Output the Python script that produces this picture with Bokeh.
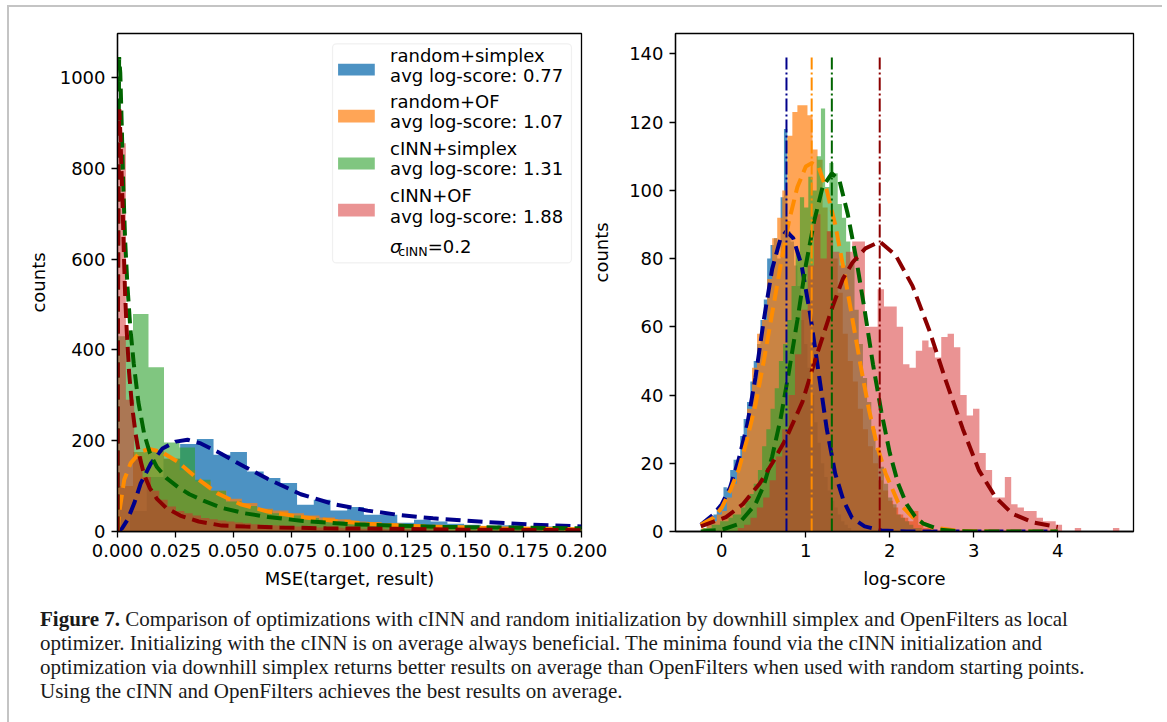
import math
from bokeh.plotting import figure
from bokeh.models import Range1d, FixedTicker, PrintfTickFormatter, BoxAnnotation, Label, Div, LinearAxis
from bokeh.layouts import column, row
from bokeh.embed import file_html
from bokeh.resources import INLINE

# ---------------- data ----------------
series_names = ["random+simplex", "random+OF", "cINN+simplex", "cINN+OF"]
avg_scores = [0.77, 1.07, 1.31, 1.88]
sigma_label = "=0.2"

fill_colors = ["#1f77b4", "#ff7f0e", "#2ca02c", "#d62728"]
fill_alphas = [0.8, 0.7, 0.6, 0.5]
fit_colors = ["darkblue", "darkorange", "darkgreen", "darkred"]

# left panel: MSE histograms (bin start, bin width, counts)
mse_blue_start, mse_blue_width = 0.0054, 0.0072
mse_blue_counts = [45, 120, 160, 193, 204, 169, 175, 132, 118, 107, 59, 70, 46, 54, 37, 37, 19, 26,
                   22, 17, 15, 12, 14, 10, 9, 11, 8]
mse_orange_start, mse_orange_width = 0.0, 0.0067
mse_orange_counts = [100, 175, 178, 160, 135, 110, 90, 72, 63, 50, 46, 40, 35, 31, 27, 22, 20, 18, 15,
                     12, 12, 11, 10, 9, 8, 8, 7, 6, 6, 5]
mse_green_start, mse_green_width = 0.0, 0.00668
mse_green_counts = [430, 479, 362, 196, 185, 114, 90, 66, 56, 48, 40, 35, 30, 26, 22, 20, 18, 16, 14,
                    12, 11, 10, 9, 9, 8, 7, 7, 6, 6, 5]
mse_red_start, mse_red_width = 0.0, 0.0036
mse_red_counts = [855, 290, 165, 120, 90, 70, 55, 45, 40, 35, 30, 27, 24, 22, 20, 18, 16, 15, 14, 13,
                  12, 11, 10, 9, 9, 8, 8, 7, 7, 6, 6, 6, 5, 5, 5, 4, 4, 4, 4, 3, 3, 3, 3, 3, 3, 2,
                  2, 2, 2, 2, 2, 2, 2, 2, 1, 1]

# left panel: fitted curves
mse_fit_blue_x = [0.0, 0.002, 0.0043, 0.0072, 0.01, 0.0144, 0.0194, 0.0251, 0.0302, 0.0359, 0.0445,
                  0.0546, 0.0647, 0.079, 0.0934, 0.1078, 0.122, 0.136, 0.158, 0.179, 0.2]
mse_fit_blue_y = [0, 7, 26, 62, 106, 150, 183, 198, 202, 194, 172, 143, 116, 82, 60, 46, 36, 29, 21, 15, 11]
mse_fit_orange_x = [0.0, 0.0003, 0.0007, 0.0029, 0.0057, 0.01, 0.0136, 0.0187, 0.0259, 0.0345, 0.0431,
                    0.053, 0.0647, 0.079, 0.094, 0.108, 0.122, 0.136, 0.165, 0.2]
mse_fit_orange_y = [0, 10, 40, 114, 151, 176, 182, 176, 154, 116, 84, 60, 44, 32, 23, 17, 13, 11, 7, 5]
mse_fit_green_x = [0.0, 0.0003, 0.0007, 0.0012, 0.0018, 0.0025, 0.0033, 0.0043, 0.0055, 0.007, 0.009,
                   0.0115, 0.014, 0.017, 0.021, 0.026, 0.031, 0.037, 0.045, 0.055, 0.065, 0.08, 0.1,
                   0.12, 0.14, 0.165, 0.2]
mse_fit_green_y = [0, 700, 1045, 1010, 900, 760, 640, 540, 450, 370, 285, 215, 172, 142, 118, 98, 82,
                   68, 52, 40, 32, 23, 16, 13, 10, 9, 7]
mse_fit_red_x = [0.0, 0.0002, 0.0005, 0.0008, 0.0012, 0.0017, 0.0022, 0.0027, 0.0033, 0.004, 0.005,
                 0.0062, 0.0078, 0.0095, 0.0115, 0.014, 0.017, 0.021, 0.027, 0.035, 0.045, 0.055,
                 0.07, 0.09, 0.12, 0.15, 0.2]
mse_fit_red_y = [0, 450, 880, 930, 880, 800, 720, 620, 520, 440, 350, 280, 215, 165, 125, 95, 72, 52,
                 35, 22, 13, 11, 9, 7, 6, 4, 3]

# right panel: log-score histograms (bin start, bin width, counts)
ls_blue_start, ls_blue_width = -0.18, 0.04
ls_blue_counts = [2, 4, 5, 7, 8, 13, 12, 18, 21, 21, 28, 33, 38, 44, 50, 55, 62, 68, 80, 84, 86, 80,
                  98, 118, 88, 85, 78, 72, 62, 55, 48, 40, 32, 26, 20, 16, 12, 9, 7, 5, 3, 2, 1]
ls_orange_start, ls_orange_width = -0.24, 0.06
ls_orange_counts = [1, 2, 3, 5, 6, 10, 14, 20, 26, 36, 48, 58, 62, 74, 86, 92, 100, 116, 123, 125, 125,
                    122, 112, 109, 95, 88, 80, 70, 58, 50, 44, 36, 30, 25, 20, 15, 12, 9, 7, 5, 4, 3,
                    6, 2, 1, 1]
ls_green_start, ls_green_width = -0.22, 0.05
ls_green_counts = [1, 1, 2, 2, 3, 3, 4, 5, 5, 7, 9, 11, 14, 18, 25, 30, 36, 42, 50, 55, 62, 72, 82, 98,
                   95, 104, 100, 110, 124, 101, 108, 105, 96, 92, 85, 79, 65, 55, 45, 38, 30, 24, 19,
                   14, 10, 8, 5, 4, 3, 2, 1, 1]
ls_red_start, ls_red_width = 0.19, 0.0757
ls_red_counts = [1, 2, 4, 7, 10, 15, 22, 30, 40, 52, 65, 78, 93, 80, 88, 82, 78, 82, 85, 85, 60, 60,
                 71, 66, 66, 60, 49, 48, 53, 56, 54, 51, 57, 58, 54, 40, 34, 36, 23, 18, 10, 10, 16,
                 8, 7, 6, 6, 4, 3, 3, 2, 0, 0, 1, 0, 0, 0, 0, 0, 1]

# right panel: fitted curves
ls_fit_blue_x = [-0.25, -0.1, 0.0, 0.1, 0.2, 0.3, 0.4, 0.5, 0.6, 0.7, 0.77, 0.85, 0.95, 1.05, 1.15,
                 1.25, 1.35, 1.45, 1.55, 1.7, 1.9, 2.2, 2.6, 3.0, 3.5, 4.0]
ls_fit_blue_y = [2, 5, 8, 13, 21, 31, 45, 62, 77, 86, 88, 86, 78, 64, 47, 30, 17, 9, 4, 1.5, 0.3, 0, 0, 0, 0, 0]
ls_fit_orange_x = [-0.25, -0.1, 0.0, 0.1, 0.2, 0.3, 0.4, 0.5, 0.6, 0.7, 0.8, 0.9, 1.0, 1.07, 1.15, 1.25,
                   1.35, 1.45, 1.55, 1.65, 1.75, 1.85, 1.95, 2.1, 2.3, 2.5, 2.8, 3.2, 4.0]
ls_fit_orange_y = [2, 4, 7, 12, 18, 27, 37, 50, 64, 78, 91, 101, 107, 108, 107, 100, 90, 77, 63, 49, 36,
                   25, 17, 8.5, 3.5, 1.2, 0.2, 0, 0]
ls_fit_green_x = [-0.25, 0.0, 0.2, 0.4, 0.5, 0.6, 0.7, 0.8, 0.9, 1.0, 1.1, 1.2, 1.31, 1.4, 1.5, 1.6, 1.7,
                  1.8, 1.9, 2.0, 2.1, 2.2, 2.3, 2.4, 2.6, 2.8, 3.0, 4.0]
ls_fit_green_y = [0, 0.5, 2.2, 8, 13.5, 22, 33, 47, 62, 78, 91, 101, 105, 103, 93, 80, 65, 49, 35, 23,
                  14, 8, 4.4, 2.3, 0.5, 0.1, 0, 0]
ls_fit_red_x = [-0.25, 0.05, 0.25, 0.45, 0.6, 0.76, 0.96, 1.12, 1.32, 1.44, 1.56, 1.71, 1.88, 2.07,
                2.27, 2.47, 2.67, 2.87, 3.06, 3.26, 3.46, 3.7, 4.0]
ls_fit_red_y = [1.5, 4.2, 8, 14, 20, 27, 38, 51, 66, 74, 79, 83, 85, 81, 72, 59, 44, 30, 18, 10, 5.2,
                2.7, 1.3]
avg_line_top = 139

# axes ticks
mse_ticks = [0.0, 0.025, 0.05, 0.075, 0.1, 0.125, 0.15, 0.175, 0.2]
mse_count_ticks = [0, 200, 400, 600, 800, 1000]
ls_ticks = [0, 1, 2, 3, 4]
ls_count_ticks = [0, 20, 40, 60, 80, 100, 120, 140]

caption_html = ("<b>Figure 7.</b> Comparison of optimizations with cINN and random initialization by "
                "downhill simplex and OpenFilters as local<br>optimizer. Initializing with the cINN is on "
                "average always beneficial. The minima found via the cINN initialization and<br>optimization "
                "via downhill simplex returns better results on average than OpenFilters when used with "
                "random starting points.<br>Using the cINN and OpenFilters achieves the best results on average.")

FONT = "DejaVu Sans"
FS = "18px"


def step_outline(start, width, counts):
    xs, ys = [start], [0]
    for i, c in enumerate(counts):
        xs += [start + i * width, start + (i + 1) * width]
        ys += [c, c]
    xs.append(start + len(counts) * width)
    ys.append(0)
    return xs, ys


def style_axis(ax):
    ax.axis_line_color = "black"
    ax.axis_line_width = 1.3
    ax.major_tick_line_color = "black"
    ax.major_tick_line_width = 1.3
    ax.major_tick_in = 0
    ax.major_tick_out = 6
    ax.minor_tick_line_color = None
    ax.major_label_text_font = FONT
    ax.major_label_text_font_size = FS
    ax.major_label_text_color = "black"
    ax.major_label_standoff = 6
    ax.axis_label_text_font = FONT
    ax.axis_label_text_font_size = FS
    ax.axis_label_text_font_style = "normal"
    ax.axis_label_text_color = "black"
    ax.axis_label_standoff = 8


def style(p, xticks, yticks, xfmt, xlabel, ylabel):
    p.xgrid.visible = False
    p.ygrid.visible = False
    p.outline_line_color = "black"
    p.outline_line_width = 1.3
    p.outline_line_alpha = 1
    p.xaxis.ticker = FixedTicker(ticks=xticks)
    p.yaxis.ticker = FixedTicker(ticks=yticks)
    if xfmt:
        p.xaxis.formatter = PrintfTickFormatter(format=xfmt)
    style_axis(p.xaxis[0])
    style_axis(p.yaxis[0])
    p.xaxis.axis_label = xlabel
    if ylabel:
        p.yaxis.axis_label = ylabel
    p.background_fill_color = "white"
    p.border_fill_color = "white"


# ---------------- left panel ----------------
p1 = figure(frame_width=464, frame_height=498, min_border_left=108, min_border_right=42,
            min_border_top=26, min_border_bottom=67, output_backend="svg", toolbar_location=None,
            x_range=Range1d(0, 0.2), y_range=Range1d(0, 1097))
style(p1, mse_ticks, mse_count_ticks, "%.3f", "MSE(target, result)", "counts")

left_hists = [(mse_blue_start, mse_blue_width, mse_blue_counts),
              (mse_orange_start, mse_orange_width, mse_orange_counts),
              (mse_green_start, mse_green_width, mse_green_counts),
              (mse_red_start, mse_red_width, mse_red_counts)]
for (s, w, c), col, a in zip(left_hists, fill_colors, fill_alphas):
    xs, ys = step_outline(s, w, c)
    p1.patch(xs, ys, fill_color=col, fill_alpha=a, line_color=None)

left_fits = [(mse_fit_blue_x, mse_fit_blue_y), (mse_fit_orange_x, mse_fit_orange_y),
             (mse_fit_green_x, mse_fit_green_y), (mse_fit_red_x, mse_fit_red_y)]
for (fx, fy), col in zip(left_fits, fit_colors):
    p1.line(fx, fy, line_color=col, line_width=4, line_dash="15 7")


# legend (placed in axes fractions)
def ax_x(f):
    return 0.0 + f * 0.2


def ax_y(f):
    return f * 1097


p1.add_layout(BoxAnnotation(left=ax_x(0.4634), right=ax_x(0.9784), bottom=ax_y(0.5394), top=ax_y(0.9793),
                            fill_color="white", fill_alpha=0.8, line_color="#cccccc", line_width=1.2,
                            border_radius=4))
patch_rows = [(0.9158, 0.9392), (0.8213, 0.8469), (0.7268, 0.7508), (0.6326, 0.6581)]
text_rows = [(0.9562, 0.9161), (0.8626, 0.8225), (0.7689, 0.7288), (0.6754, 0.6333)]
for i in range(4):
    b, t = patch_rows[i]
    p1.add_layout(BoxAnnotation(left=ax_x(0.4754), right=ax_x(0.5545), bottom=ax_y(b), top=ax_y(t),
                                fill_color=fill_colors[i], fill_alpha=fill_alphas[i], line_color=None))
    l1, l2 = text_rows[i]
    p1.add_layout(Label(x=ax_x(0.5875), y=ax_y(l1), text=series_names[i], text_font=FONT,
                        text_font_size=FS, text_baseline="middle", text_color="black"))
    p1.add_layout(Label(x=ax_x(0.5875), y=ax_y(l2), text="avg log-score: %.2f" % avg_scores[i],
                        text_font=FONT, text_font_size=FS, text_baseline="middle", text_color="black"))
p1.add_layout(Label(x=ax_x(0.5875), y=ax_y(0.5715), text="σ", text_font=FONT, text_font_size=FS,
                    text_font_style="italic", text_baseline="middle", text_color="black"))
p1.add_layout(Label(x=ax_x(0.6050), y=ax_y(0.5620), text="cINN", text_font=FONT, text_font_size="12.6px",
                    text_baseline="middle", text_color="black"))
p1.add_layout(Label(x=ax_x(0.6685), y=ax_y(0.5715), text=sigma_label, text_font=FONT, text_font_size=FS,
                    text_baseline="middle", text_color="black"))

# y-axis title of the right panel: carried by a bare axis on the right of the left panel
gap_axis = LinearAxis(ticker=FixedTicker(ticks=[]), axis_label="counts")
style_axis(gap_axis)
gap_axis.axis_line_color = None
gap_axis.major_tick_line_color = None
gap_axis.major_label_text_font_size = "0px"
gap_axis.major_label_standoff = 0
gap_axis.major_tick_out = 0
gap_axis.axis_label_standoff = 20
gap_axis.axis_label_text_baseline = "top"
if "axis_label_orientation" in gap_axis.properties():
    gap_axis.axis_label_orientation = math.pi / 2
p1.add_layout(gap_axis, "right")

# ---------------- right panel ----------------
p2 = figure(frame_width=458, frame_height=498, min_border_left=50, min_border_right=29,
            min_border_top=26, min_border_bottom=67, output_backend="svg", toolbar_location=None,
            x_range=Range1d(-0.551, 4.901), y_range=Range1d(0, 146))
style(p2, ls_ticks, ls_count_ticks, None, "log-score", None)

right_hists = [(ls_blue_start, ls_blue_width, ls_blue_counts),
               (ls_orange_start, ls_orange_width, ls_orange_counts),
               (ls_green_start, ls_green_width, ls_green_counts),
               (ls_red_start, ls_red_width, ls_red_counts)]
for (s, w, c), col, a in zip(right_hists, fill_colors, fill_alphas):
    xs, ys = step_outline(s, w, c)
    p2.patch(xs, ys, fill_color=col, fill_alpha=a, line_color=None)

right_fits = [(ls_fit_blue_x, ls_fit_blue_y), (ls_fit_orange_x, ls_fit_orange_y),
              (ls_fit_green_x, ls_fit_green_y), (ls_fit_red_x, ls_fit_red_y)]
for (fx, fy), col in zip(right_fits, fit_colors):
    p2.line(fx, fy, line_color=col, line_width=4, line_dash="15 7")

p2.segment(x0=avg_scores, y0=[0] * 4, x1=avg_scores, y1=[avg_line_top] * 4,
           line_color=fit_colors, line_width=2, line_dash="13 3 2 3")

# ---------------- caption ----------------
cap = Div(text='<div style="font-family:\'Liberation Serif\'; font-size:21px; line-height:24px; '
               'white-space:nowrap; color:#1a1a1a; padding-left:31px; padding-top:9px;">'
               + caption_html + '</div>', width=1151, height=124, margin=(0, 0, 0, 0))

layout = column(row(p1, p2, spacing=0), cap, spacing=0, margin=(5, 0, 0, 7),
                styles={"border-left": "2px solid #c4c4c4", "border-top": "2px solid #c4c4c4"})
open("out.html", "w").write(file_html(layout, INLINE))
